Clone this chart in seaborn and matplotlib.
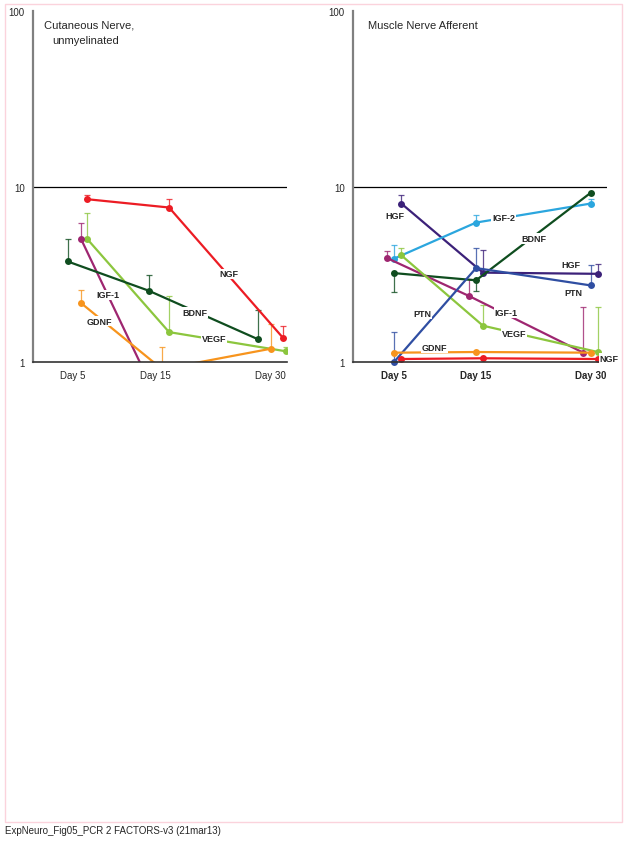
import numpy as np
import pandas as pd
import matplotlib
matplotlib.use("Agg")
import matplotlib.pyplot as plt
import seaborn as sns
from matplotlib.patches import Rectangle
from matplotlib.ticker import NullLocator

# ---- Cutaneous nerve, unmyelinated (fold change, log scale) ----
CUT_FACTORS = ["NGF", "VEGF", "IGF-1", "BDNF", "GDNF"]
CUT_DAYS = [[6.8, 16.8, 31.6], [6.8, 16.8, 32.0], [6.0, 15.9],
            [4.4, 14.2, 28.3], [6.0, 15.9, 30.0]]
CUT_VALUES = [[8.46, 7.59, 1.37], [5.0, 1.48, 1.15], [5.04, 0.54],
              [3.74, 2.55, 1.35], [2.17, 0.91, 1.19]]
CUT_ERR_HI = [[8.9, 8.46, 1.6], [7.1, 2.39, 1.22], [6.2, 0.54],
              [5.0, 3.15, 1.99], [2.58, 1.22, 1.65]]
CUT_ERR_LO = CUT_VALUES

# ---- Muscle nerve afferent ----
MUS_FACTORS = ["HGF", "IGF-2", "BDNF", "IGF-1", "VEGF", "PTN", "GDNF", "NGF"]
MUS_DAYS = [[5.9, 15.9, 30.9], [5, 15, 30], [5, 15, 30], [4.1, 14.2, 29.0],
            [5.9, 15.9, 30.9], [5, 15, 30], [5, 15, 30], [5.9, 15.9, 30.9]]
MUS_VALUES = [[7.99, 3.23, 3.18], [3.88, 6.23, 8.0], [3.21, 2.92, 9.23],
              [3.92, 2.37, 1.13], [4.05, 1.61, 1.14], [1.0, 3.43, 2.73],
              [1.13, 1.14, 1.13], [1.04, 1.05, 1.04]]
MUS_ERR_HI = [[8.9, 4.33, 3.63], [4.66, 6.9, 8.45], [3.21, 2.92, 9.23],
              [4.27, 2.98, 2.05], [4.47, 2.1, 2.05], [1.48, 4.47, 3.58],
              [1.13, 1.14, 1.13], [1.04, 1.05, 1.04]]
MUS_ERR_LO = [[7.99, 3.23, 3.18], [3.88, 6.23, 7.82], [2.5, 2.55, 9.23],
              [3.92, 2.37, 1.13], [4.05, 1.61, 1.14], [1.0, 3.43, 2.73],
              [1.13, 1.14, 1.13], [1.04, 1.05, 1.04]]

TICK_DAYS = [5, 15, 30]
TICK_LABELS = ["Day 5", "Day 15", "Day 30"]

COLORS = {"NGF": "#ec1c24", "VEGF": "#8cc63e", "IGF-1": "#9e2670",
          "BDNF": "#0f4d1f", "GDNF": "#f7941d", "HGF": "#3c2179",
          "IGF-2": "#2ba6de", "PTN": "#2f4ea2"}

# in-plot labels (text, day, value)
CUT_LABELS = [("NGF", 24.6, 3.18), ("IGF-1", 9.25, 2.41), ("GDNF", 8.2, 1.71),
              ("BDNF", 20.1, 1.91), ("VEGF", 22.6, 1.37)]
MUS_LABELS = [("HGF", 5.1, 6.86), ("IGF-2", 18.6, 6.62), ("BDNF", 22.5, 5.05),
              ("HGF", 27.4, 3.58), ("PTN", 27.7, 2.5), ("PTN", 8.4, 1.88),
              ("IGF-1", 18.9, 1.91), ("VEGF", 20.0, 1.45), ("GDNF", 9.9, 1.21),
              ("NGF", 32.4, 1.05)]


def fwd(d):
    d = np.asarray(d, dtype=float)
    return np.where(d < 15, (d - 5) / 10, 1 + (d - 15) * 1.4 / 15)


def inv(p):
    p = np.asarray(p, dtype=float)
    return np.where(p < 1, 5 + p * 10, 15 + (p - 1) * 15 / 1.4)


def to_frame(factors, days, values):
    rows = []
    for f, ds, vs in zip(factors, days, values):
        for d, v in zip(ds, vs):
            rows.append({"factor": f, "day": d, "fold": v})
    return pd.DataFrame(rows)


def draw_panel(ax, factors, days, values, err_lo, err_hi, labels, title,
               xlim, bold_ticks=False, clip=True):
    ax.set_xscale("function", functions=(fwd, inv))
    ax.set_yscale("log")
    for f, ds, vs, lo, hi in zip(factors, days, values, err_lo, err_hi):
        vs = np.array(vs)
        yerr = [vs - np.array(lo), np.array(hi) - vs]
        ax.errorbar(ds, vs, yerr=yerr, fmt="none", ecolor=COLORS[f],
                    elinewidth=0.9, capsize=2.5, capthick=0.9, alpha=0.8,
                    zorder=1.5, clip_on=clip)
    df = to_frame(factors, days, values)
    sns.lineplot(data=df, x="day", y="fold", hue="factor", palette=COLORS,
                 hue_order=factors, estimator=None, marker="o", markersize=5,
                 markeredgewidth=0, linewidth=1.6, legend=False, ax=ax,
                 zorder=2)
    if not clip:
        for ln in ax.lines:
            ln.set_clip_on(False)
    for txt, d, v in labels:
        ax.text(d, v, txt, fontsize=6.5, fontweight="bold", ha="center",
                va="center", zorder=5,
                bbox=dict(facecolor="white", edgecolor="none", pad=0.6))
    ax.axhline(10, color="black", lw=0.9, zorder=1)
    ax.set_xlim(*xlim)
    ax.set_ylim(1, 100)
    ax.set_yticks([1, 10, 100])
    ax.set_yticklabels(["1", "10", "100"])
    ax.yaxis.set_minor_locator(NullLocator())
    ax.set_xticks(TICK_DAYS)
    ax.set_xticklabels(TICK_LABELS, fontweight="bold" if bold_ticks else "normal")
    ax.xaxis.set_minor_locator(NullLocator())
    ax.tick_params(axis="both", labelsize=7, length=4, width=0.8,
                   color="#333333", pad=2)
    ax.set_xlabel("")
    ax.set_ylabel("")
    sns.despine(ax=ax)
    ax.spines["left"].set_color("#808080")
    ax.spines["left"].set_linewidth(1.6)
    ax.spines["bottom"].set_color("#333333")
    ax.spines["bottom"].set_linewidth(1.2)
    for i, line in enumerate(title):
        ax.text(line[0], 0.975 - i * 0.043, line[1], transform=ax.transAxes,
                fontsize=8, ha="left", va="top")


def main():
    sns.set_style("white")
    plt.rcParams["font.family"] = ["Liberation Sans", "DejaVu Sans"]

    fig = plt.figure(figsize=(6.29, 8.45), dpi=100)
    ax1 = fig.add_axes([33 / 629, 1 - 363 / 845, 254 / 629, 351 / 845])
    ax2 = fig.add_axes([353 / 629, 1 - 363 / 845, 254 / 629, 351 / 845])

    draw_panel(ax1, CUT_FACTORS, CUT_DAYS, CUT_VALUES, CUT_ERR_LO, CUT_ERR_HI,
               CUT_LABELS, [(0.043, "Cutaneous Nerve,"), (0.075, "unmyelinated")],
               xlim=(0.2, 32.1))
    draw_panel(ax2, MUS_FACTORS, MUS_DAYS, MUS_VALUES, MUS_ERR_LO, MUS_ERR_HI,
               MUS_LABELS, [(0.059, "Muscle Nerve Afferent")],
               xlim=(0.0, 32.1), bold_ticks=True, clip=False)

    fig.patches.append(Rectangle((5 / 629, 1 - 823 / 845), 617 / 629, 818 / 845,
                                 transform=fig.transFigure, fill=False,
                                 edgecolor="#fbd3dc", linewidth=1))
    fig.text(5 / 629, 1 - 831 / 845, "ExpNeuro_Fig05_PCR 2 FACTORS-v3 (21mar13)",
             fontsize=7, ha="left", va="center")

    fig.savefig("out.png", dpi=100)


if __name__ == "__main__":
    main()
